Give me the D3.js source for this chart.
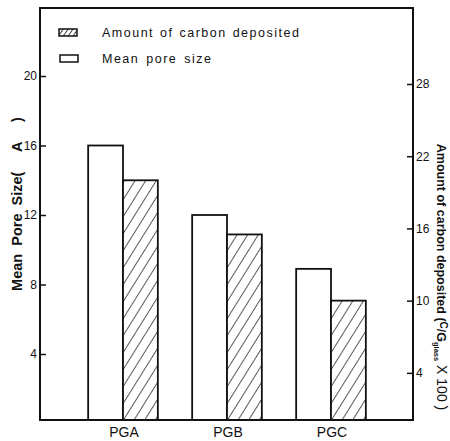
<!DOCTYPE html>
<html>
<head>
<meta charset="utf-8">
<script src="https://cdn.jsdelivr.net/npm/d3@7"></script>
<style>
  html, body { margin: 0; padding: 0; background: #fff; }
  svg { display: block; font-family: "Liberation Sans", Arial, sans-serif; }
</style>
</head>
<body>
<svg id="chart" width="450" height="441"></svg>
<script>
// Pore glass samples
const categories = ["PGA", "PGB", "PGC"];
// Mean pore size (Å), left axis
const poreSize = [16, 12, 8.9];
// Amount of carbon deposited (C/G_glass × 100), right axis
const carbon = [20, 15.5, 10];
// Tick labels
const leftTicks = [4, 8, 12, 16, 20];
const rightTicks = [4, 10, 16, 22, 28];

const svg = d3.select("#chart");
const box = { left: 40, right: 413, top: 8, bottom: 420 };

const x = d3.scaleBand().domain(categories).range([71, 383])
  .paddingInner(0.33).paddingOuter(0.165);
const sub = d3.scaleBand().domain(["pore", "carbon"]).range([0, x.bandwidth()]);
const yLeft = d3.scaleLinear().domain([0, 20]).range([423.5, 76]);
const yRight = d3.scaleLinear().domain([0, 28]).range([421, 84]);

// diagonal hatch pattern
const defs = svg.append("defs");
const pat = defs.append("pattern").attr("id", "hatch")
  .attr("patternUnits", "userSpaceOnUse").attr("width", 9).attr("height", 9)
  .attr("patternTransform", "rotate(32)");
pat.append("rect").attr("width", 9).attr("height", 9).attr("fill", "#fff");
pat.append("line").attr("x1", 0).attr("y1", 0).attr("x2", 0).attr("y2", 9)
  .attr("stroke", "#111").attr("stroke-width", 1.4);

const legPat = defs.append("pattern").attr("id", "hatchSmall")
  .attr("patternUnits", "userSpaceOnUse").attr("width", 4).attr("height", 4)
  .attr("patternTransform", "rotate(35)");
legPat.append("rect").attr("width", 4).attr("height", 4).attr("fill", "#fff");
legPat.append("line").attr("x1", 0).attr("y1", 0).attr("x2", 0).attr("y2", 4)
  .attr("stroke", "#111").attr("stroke-width", 1.6);

// bars
const groups = svg.append("g").selectAll("g").data(categories).join("g")
  .attr("transform", d => `translate(${x(d)},0)`);

groups.append("rect")
  .attr("x", sub("pore"))
  .attr("y", (d, i) => yLeft(poreSize[i]))
  .attr("width", sub.bandwidth())
  .attr("height", (d, i) => box.bottom - yLeft(poreSize[i]))
  .attr("fill", "#fff").attr("stroke", "#111").attr("stroke-width", 1.8);

groups.append("rect")
  .attr("x", sub("carbon"))
  .attr("y", (d, i) => yRight(carbon[i]))
  .attr("width", sub.bandwidth())
  .attr("height", (d, i) => box.bottom - yRight(carbon[i]))
  .attr("fill", "url(#hatch)").attr("stroke", "#111").attr("stroke-width", 1.8);

// frame
svg.append("rect")
  .attr("x", box.left).attr("y", box.top)
  .attr("width", box.right - box.left).attr("height", box.bottom - box.top)
  .attr("fill", "none").attr("stroke", "#111").attr("stroke-width", 2);

// left axis (ticks point inward)
const axL = svg.append("g").attr("transform", `translate(${box.left},0)`)
  .call(d3.axisRight(yLeft).tickValues(leftTicks).tickSize(6).tickFormat(d3.format("d")));
axL.select(".domain").remove();
axL.selectAll("line").attr("stroke", "#111").attr("stroke-width", 1.5);
axL.selectAll("text").attr("x", -3).attr("text-anchor", "end")
  .attr("font-size", 12).attr("fill", "#111");

// right axis (ticks point inward)
const axR = svg.append("g").attr("transform", `translate(${box.right},0)`)
  .call(d3.axisLeft(yRight).tickValues(rightTicks).tickSize(6).tickFormat(d3.format("d")));
axR.select(".domain").remove();
axR.selectAll("line").attr("stroke", "#111").attr("stroke-width", 1.5);
axR.selectAll("text").attr("x", 3).attr("text-anchor", "start")
  .attr("font-size", 12).attr("fill", "#111");

// category labels
svg.append("g").selectAll("text").data(categories).join("text")
  .attr("x", d => x(d) + x.bandwidth() / 2 + 1)
  .attr("y", 437)
  .attr("text-anchor", "middle")
  .attr("font-size", 14)
  .attr("fill", "#111")
  .text(d => d);

// legend
const legend = svg.append("g");
legend.append("rect").attr("x", 59).attr("y", 29).attr("width", 18).attr("height", 7)
  .attr("fill", "url(#hatchSmall)").attr("stroke", "#111").attr("stroke-width", 1.5);
legend.append("text").attr("x", 102).attr("y", 37)
  .attr("font-size", 12.5).attr("letter-spacing", 1.5).attr("word-spacing", 1).attr("fill", "#111")
  .text("Amount  of  carbon deposited");
legend.append("rect").attr("x", 60).attr("y", 55).attr("width", 18).attr("height", 7)
  .attr("fill", "#fff").attr("stroke", "#111").attr("stroke-width", 1.5);
legend.append("text").attr("x", 102).attr("y", 63)
  .attr("font-size", 12.5).attr("letter-spacing", 1.5).attr("word-spacing", 2).attr("fill", "#111")
  .text("Mean  pore  size");

// left axis title
svg.append("text")
  .attr("transform", "translate(22,204) rotate(-90)")
  .attr("text-anchor", "middle")
  .attr("font-size", 14.5).attr("font-weight", "bold").attr("fill", "#111")
  .attr("xml:space", "preserve")
  .text("Mean  Pore  Size(     A     )");

// right axis title
const rt = svg.append("text")
  .attr("transform", "translate(437,277) rotate(90)")
  .attr("text-anchor", "middle")
  .attr("font-size", 12.5).attr("font-weight", "bold").attr("fill", "#111");
rt.append("tspan").text("Amount of carbon deposited (");
rt.append("tspan").attr("font-size", 10).attr("dy", -3).text("C");
rt.append("tspan").attr("dy", 3).text("/G");
rt.append("tspan").attr("font-size", 7.5).attr("dy", 3).text("glass");
rt.append("tspan").attr("dy", -3).attr("font-weight", "normal").attr("font-size", 14).text("  X 100 )");
</script>
</body>
</html>
